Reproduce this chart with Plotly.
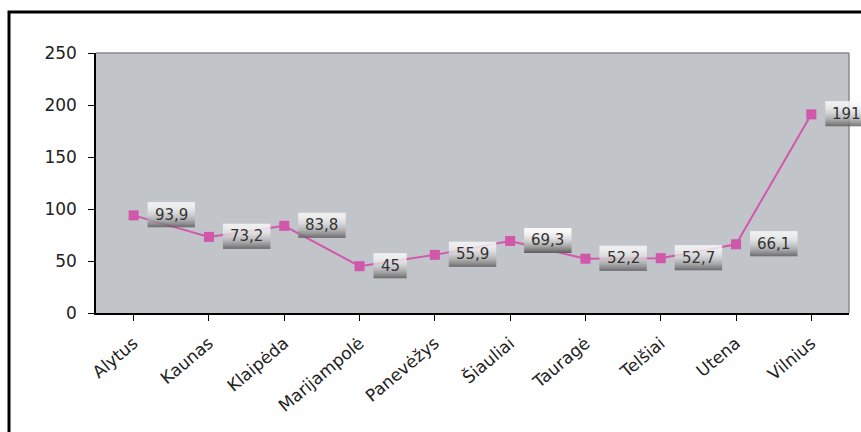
import plotly.graph_objects as go

# Regional values
regions = ["Alytus", "Kaunas", "Klaipėda", "Marijampolė", "Panevėžys",
           "Šiauliai", "Tauragė", "Telšiai", "Utena", "Vilnius"]
values = [93.9, 73.2, 83.8, 45, 55.9, 69.3, 52.2, 52.7, 66.1, 191]
y_ticks = [0, 50, 100, 150, 200, 250]

FONT = "DejaVu Sans"
LABEL_SIZE = 15


def fmt(v):
    s = f"{v:g}"
    return s.replace(".", ",")


def text_width(s, size):
    # approximate advance widths for DejaVu Sans
    w = 0.0
    for ch in s:
        if ch.isdigit():
            w += 0.636
        elif ch in ",.":
            w += 0.318
        else:
            w += 0.6
    return w * size


fig = go.Figure()
fig.add_trace(go.Scatter(
    x=list(range(len(regions))), y=values, mode="lines+markers",
    line=dict(color="#D357AC", width=2),
    marker=dict(symbol="square", size=10, color="#D057AA"),
    hoverinfo="skip", showlegend=False,
))

shapes = []
annotations = []

# outer frame of the chart area
shapes.append(dict(type="rect", xref="paper", yref="paper",
                   xsizemode="pixel", ysizemode="pixel",
                   xanchor=0, yanchor=1, x0=-87, x1=900, y0=41, y1=-500,
                   line=dict(color="black", width=3), layer="above"))
# top and right border of the plot area
shapes.append(dict(type="line", xref="paper", yref="paper", x0=0, x1=1, y0=1, y1=1,
                   line=dict(color="#8a8a8a", width=1.5), layer="above"))
shapes.append(dict(type="line", xref="paper", yref="paper", x0=1, x1=1, y0=0, y1=1,
                   line=dict(color="#8a8a8a", width=1.5), layer="above"))

# gradient value boxes next to each point
n = len(regions)
box_top, box_bottom = 13, -12
h = box_top - box_bottom
for i, v in enumerate(values):
    txt = fmt(v)
    w = text_width(txt, LABEL_SIZE) + 14
    left = 14
    xa = (i + 0.5) / n
    for k in range(h):
        t = (k + 0.5) / h
        c = int(round(250 - 160 * t ** 2.0))
        shapes.append(dict(type="rect", xref="x domain", yref="y",
                           xsizemode="pixel", ysizemode="pixel",
                           xanchor=xa, yanchor=v,
                           x0=left, x1=left + w,
                           y0=box_top - k - 1, y1=box_top - k,
                           fillcolor=f"rgb({c},{c},{c})",
                           line=dict(width=0), layer="above"))
    annotations.append(dict(x=i, y=v, xref="x", yref="y", text=txt,
                            showarrow=False, xanchor="center", yanchor="middle",
                            xshift=left + w / 2, yshift=0.5,
                            font=dict(family=FONT, size=LABEL_SIZE, color="#333333")))

fig.update_layout(
    width=861, height=432,
    margin=dict(l=96, r=12, t=53, b=119, autoexpand=False),
    paper_bgcolor="white", plot_bgcolor="#C1C4C9",
    shapes=shapes, annotations=annotations,
    font=dict(family=FONT, color="#222222"),
    xaxis=dict(
        range=[-0.5, n - 0.5], tickmode="array",
        tickvals=list(range(n)), ticktext=regions,
        tickson="boundaries", ticks="outside", ticklen=6, tickcolor="black",
        showline=True, linecolor="black", linewidth=1.5,
        showgrid=False, zeroline=False, tickangle=-40, ticklabelstandoff=6,
        tickfont=dict(family=FONT, size=17, color="#222222"),
        automargin=False,
    ),
    yaxis=dict(
        range=[0, 250], tickmode="array", tickvals=y_ticks,
        ticks="outside", ticklen=6, tickcolor="black",
        showline=True, linecolor="black", linewidth=1.5,
        showgrid=False, zeroline=False, ticklabelstandoff=8,
        tickfont=dict(family=FONT, size=17, color="#222222"),
        automargin=False,
    ),
)

fig.write_html("out.html")
